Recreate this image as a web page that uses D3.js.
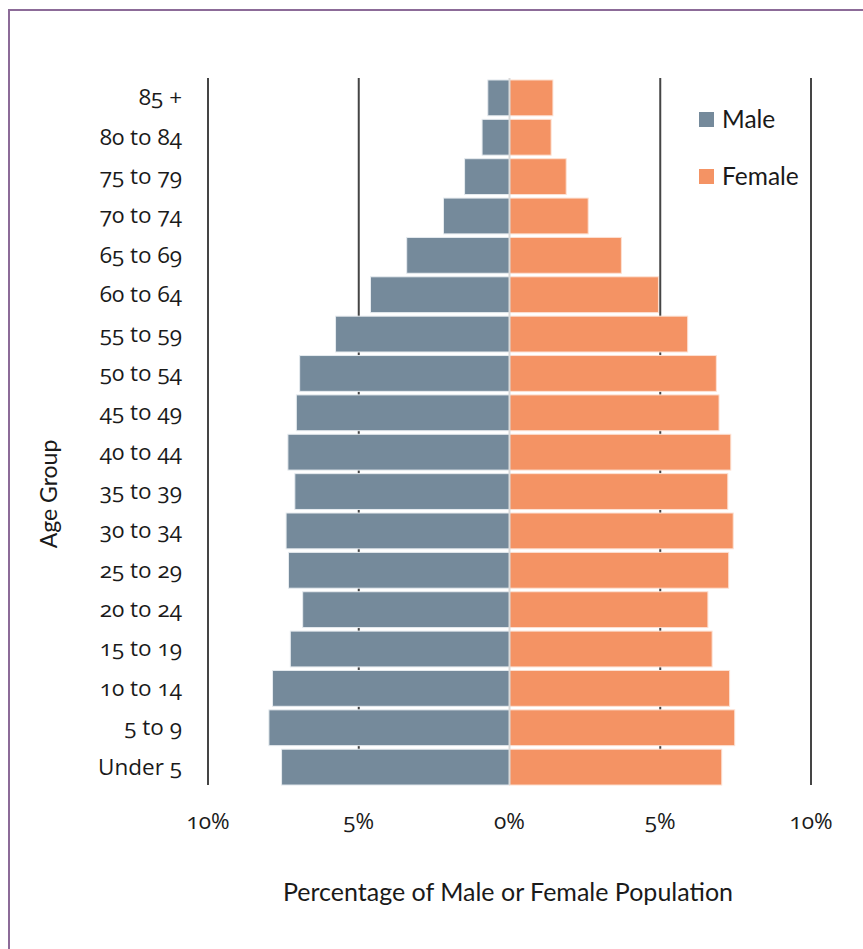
<!DOCTYPE html>
<html>
<head>
<meta charset="utf-8">
<script src="https://cdn.jsdelivr.net/npm/d3@7"></script>
<style>
  html, body { margin: 0; padding: 0; background: #fff; }
  svg { display: block; }
  .age, .tick-lbl { font-family: "Open Sans", sans-serif; font-variant-numeric: oldstyle-nums; font-feature-settings: "onum" 1; }
  .plain { font-family: Lato, "Open Sans", sans-serif; }
</style>
</head>
<body>
<script>
// Age groups, oldest at the top
const ageGroups = ["85 +", "80 to 84", "75 to 79", "70 to 74", "65 to 69", "60 to 64",
  "55 to 59", "50 to 54", "45 to 49", "40 to 44", "35 to 39", "30 to 34",
  "25 to 29", "20 to 24", "15 to 19", "10 to 14", "5 to 9", "Under 5"];

// Share of male population in each age group (%)
const malePct = [0.72, 0.91, 1.49, 2.19, 3.41, 4.61, 5.77, 6.96, 7.07, 7.35,
  7.12, 7.41, 7.33, 6.86, 7.27, 7.86, 7.98, 7.56];

// Share of female population in each age group (%)
const femalePct = [1.44, 1.38, 1.88, 2.61, 3.71, 4.94, 5.91, 6.86, 6.95, 7.34,
  7.24, 7.42, 7.27, 6.58, 6.72, 7.30, 7.47, 7.04];

const tickValues = [-10, -5, 0, 5, 10];
const seriesNames = ["Male", "Female"];

const W = 863, H = 949;
const colors = { Male: "#758a9b", Female: "#f49364" };

const svg = d3.select("body").append("svg").attr("width", W).attr("height", H);

// frame
svg.append("rect")
  .attr("x", 9).attr("y", 10).attr("width", W + 20).attr("height", H + 20)
  .attr("fill", "#fff").attr("stroke", "#8c6b98").attr("stroke-width", 2);

const x = d3.scaleLinear().domain([-10, 10]).range([208, 811]);
const y = d3.scaleBand().domain(ageGroups).range([78, 787])
  .paddingInner(0.09).paddingOuter(0.05);

const gridTop = 78, gridBottom = 785;

// vertical gridlines
svg.append("g").selectAll("line")
  .data(tickValues.filter(d => d !== 0))
  .join("line")
  .attr("x1", d => x(d)).attr("x2", d => x(d))
  .attr("y1", gridTop).attr("y2", gridBottom)
  .attr("stroke", "#454545").attr("stroke-width", 2);

// male bars (left)
svg.append("g").selectAll("rect")
  .data(ageGroups)
  .join("rect")
  .attr("x", (d, i) => x(-malePct[i]))
  .attr("y", d => y(d))
  .attr("width", (d, i) => x(0) - x(-malePct[i]))
  .attr("height", y.bandwidth())
  .attr("fill", colors.Male)
  .attr("stroke", "#e6ebef").attr("stroke-width", 1);

// female bars (right)
svg.append("g").selectAll("rect")
  .data(ageGroups)
  .join("rect")
  .attr("x", x(0))
  .attr("y", d => y(d))
  .attr("width", (d, i) => x(femalePct[i]) - x(0))
  .attr("height", y.bandwidth())
  .attr("fill", colors.Female)
  .attr("stroke", "#fde1d3").attr("stroke-width", 1);

// zero line
svg.append("line")
  .attr("x1", x(0)).attr("x2", x(0))
  .attr("y1", gridTop).attr("y2", gridBottom)
  .attr("stroke", "#d9d9d9").attr("stroke-width", 2);

// age labels
svg.append("g").selectAll("text")
  .data(ageGroups)
  .join("text")
  .attr("class", "age")
  .attr("x", 182)
  .attr("y", d => y(d) + y.bandwidth() / 2)
  .attr("dy", "0.33em")
  .attr("text-anchor", "end")
  .attr("font-size", 22.5)
  .attr("fill", "#1a1a1a")
  .text(d => d);

// x tick labels
svg.append("g").selectAll("text")
  .data(tickValues)
  .join("text")
  .attr("class", "tick-lbl")
  .attr("x", d => x(d))
  .attr("y", 829)
  .attr("text-anchor", "middle")
  .attr("font-size", 22.5)
  .attr("fill", "#1a1a1a")
  .text(d => Math.abs(d) + "%");

// axis titles
svg.append("text")
  .attr("class", "plain")
  .attr("x", 508).attr("y", 901)
  .attr("text-anchor", "middle")
  .attr("font-size", 25)
  .attr("fill", "#1a1a1a")
  .text("Percentage of Male or Female Population");

svg.append("text")
  .attr("class", "plain")
  .attr("transform", "translate(57,494) rotate(-90)")
  .attr("text-anchor", "middle")
  .attr("font-size", 23)
  .attr("fill", "#1a1a1a")
  .text("Age Group");

// legend
const legend = svg.append("g").selectAll("g")
  .data(seriesNames)
  .join("g")
  .attr("transform", (d, i) => `translate(699,${112 + i * 57})`);
legend.append("rect")
  .attr("width", 15).attr("height", 15)
  .attr("fill", d => colors[d]);
legend.append("text")
  .attr("class", "plain")
  .attr("x", 23).attr("y", 7.5).attr("dy", "0.36em")
  .attr("font-size", 24.5)
  .attr("fill", "#1a1a1a")
  .text(d => d);
</script>
</body>
</html>
